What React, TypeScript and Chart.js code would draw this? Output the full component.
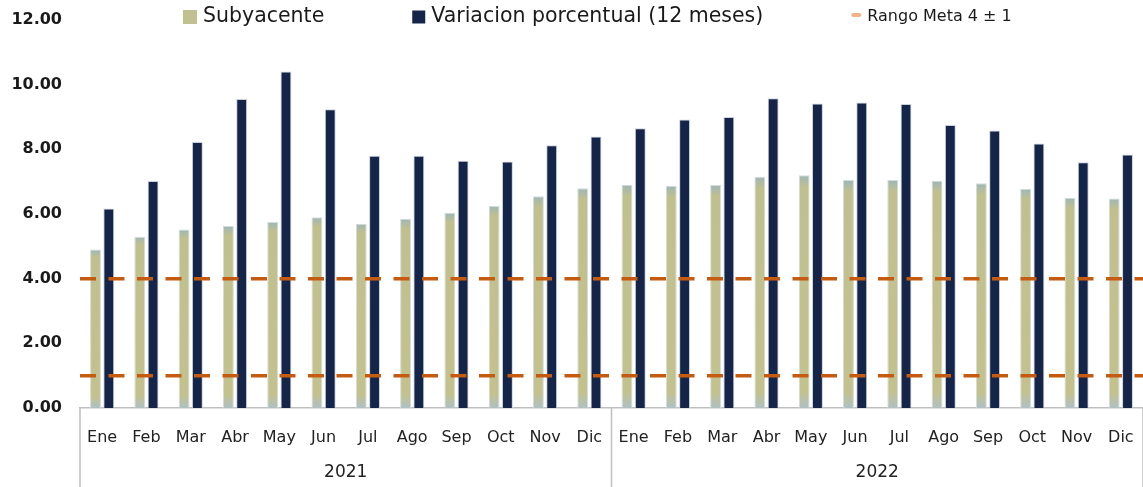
import React, { useEffect, useRef } from 'react';
import { Chart, registerables } from 'chart.js';

Chart.register(...registerables);

// ---- data ----
const months = ['Ene', 'Feb', 'Mar', 'Abr', 'May', 'Jun', 'Jul', 'Ago', 'Sep', 'Oct', 'Nov', 'Dic'];
const categories = [...months, ...months];
const years = ['2021', '2022'];
const subyacente = [
  4.9, 5.3, 5.52, 5.63, 5.75, 5.9, 5.7, 5.85, 6.04, 6.25, 6.55, 6.8,
  6.9, 6.87, 6.9, 7.15, 7.2, 7.05, 7.05, 7.03, 6.95, 6.78, 6.5, 6.48,
];
const variacion = [
  6.17, 7.02, 8.23, 9.56, 10.41, 9.24, 7.8, 7.8, 7.65, 7.62, 8.13, 8.4,
  8.65, 8.92, 9.0, 9.58, 9.42, 9.45, 9.4, 8.75, 8.58, 8.18, 7.6, 7.84,
];
const metaUpper = categories.map(() => 4);
const metaLower = categories.map(() => 1);
const yMin = 0;
const yMax = 12;
const yStep = 2;

const labelSub = 'Subyacente';
const labelVar = 'Variacion porcentual (12 meses)';
const labelMeta = 'Rango Meta 4 ± 1';

const FONT = "'DejaVu Sans', 'Noto Sans', sans-serif";

// stretch the target-range lines across the whole plot area
const extendLinesPlugin = {
  id: 'extendLines',
  afterDatasetsUpdate(chart: any) {
    const area = chart.chartArea;
    chart.data.datasets.forEach((d: any, i: number) => {
      if (d.type !== 'line') return;
      const pts = chart.getDatasetMeta(i).data;
      if (!pts.length) return;
      pts[0].x = area.left;
      pts[pts.length - 1].x = area.right;
    });
  },
};

const yearBoxPlugin = {
  id: 'yearBox',
  afterDraw(chart: any) {
    const x = chart.scales.x;
    const ctx = chart.ctx;
    const half = months.length;
    const mid = (x.getPixelForTick(half - 1) + x.getPixelForTick(half)) / 2;
    ctx.save();
    ctx.strokeStyle = '#bfbfbf';
    ctx.lineWidth = 1.5;
    [x.left, mid, x.right].forEach((px: number) => {
      ctx.beginPath();
      ctx.moveTo(px, x.top);
      ctx.lineTo(px, chart.height);
      ctx.stroke();
    });
    ctx.restore();
  },
};

const topLegendPlugin = {
  id: 'topLegend',
  afterDraw(chart: any, _args: any, opts: any) {
    const ctx = chart.ctx;
    const ds = chart.data.datasets;
    const items = [
      { kind: 'box', color: '#c0c090', text: ds[0].label, size: 20.5, box: 14 },
      { kind: 'box', color: '#15254a', text: ds[1].label, size: 20.5, box: 13 },
      { kind: 'dash', color: '#f4b183', text: ds[2].label, size: 16, box: 8 },
    ];
    let cx = opts.x;
    const cy = opts.y;
    ctx.save();
    ctx.textBaseline = 'middle';
    items.forEach((it) => {
      if (it.kind === 'box') {
        ctx.fillStyle = it.color;
        ctx.fillRect(cx, cy - it.box / 2, it.box, it.box);
        cx += it.box + 6;
      } else {
        ctx.strokeStyle = it.color;
        ctx.lineWidth = 4;
        ctx.lineCap = 'round';
        ctx.beginPath();
        ctx.moveTo(cx + 2, cy - 2);
        ctx.lineTo(cx + it.box, cy - 2);
        ctx.stroke();
        cx += it.box + 8;
      }
      ctx.font = `${it.size}px ${FONT}`;
      ctx.fillStyle = '#1a1a1a';
      ctx.fillText(it.text, cx, cy);
      cx += ctx.measureText(it.text).width + opts.gap;
    });
    ctx.restore();
  },
};

function subGradient(context: any) {
  const chart = context.chart;
  const { ctx, chartArea, scales } = chart;
  if (!chartArea) return '#c2c18f';
  const v = context.raw ?? 0;
  const top = scales.y.getPixelForValue(v);
  const bottom = scales.y.getPixelForValue(0);
  if (!isFinite(top) || bottom - top < 2) return '#c2c18f';
  const g = ctx.createLinearGradient(0, top, 0, bottom);
  g.addColorStop(0, '#9fb6b6');
  g.addColorStop(0.05, '#c0c08f');
  g.addColorStop(0.93, '#c3c28e');
  g.addColorStop(1, '#afc0c4');
  return g;
}

const lineStyle = {
  type: 'line',
  label: labelMeta,
  borderColor: '#c55a11',
  borderWidth: 3.5,
  borderDash: [16, 12.5],
  pointRadius: 0,
  pointHoverRadius: 0,
  fill: false,
  tension: 0,
  order: 0,
};

export default function App() {
  const ref = useRef<HTMLCanvasElement | null>(null);

  useEffect(() => {
    document.body.style.margin = '0';
    if (!ref.current) return;
    const chart = new Chart(ref.current, {
      type: 'bar',
      data: {
        labels: categories,
        datasets: [
          {
            type: 'bar',
            label: labelSub,
            data: subyacente,
            backgroundColor: subGradient,
            borderColor: '#d3dcdc',
            borderWidth: 1,
            order: 2,
          },
          {
            type: 'bar',
            label: labelVar,
            data: variacion,
            backgroundColor: '#15254a',
            borderColor: '#c9d1dc',
            borderWidth: 1,
            order: 2,
          },
          { ...lineStyle, data: metaUpper },
          { ...lineStyle, data: metaLower },
        ] as any,
      },
      options: {
        animation: false,
        responsive: true,
        maintainAspectRatio: false,
        layout: { padding: { left: 11, top: 20, right: 0, bottom: 5 } },
        datasets: {
          bar: { categoryPercentage: 0.6, barPercentage: 0.82 },
        } as any,
        plugins: {
          legend: { display: false },
          tooltip: { enabled: false },
          topLegend: { x: 183, y: 17, gap: 88 },
        } as any,
        scales: {
          x: {
            type: 'category',
            position: 'bottom',
            offset: true,
            weight: 0,
            grid: { display: false, drawTicks: true, tickLength: 20 },
            border: { display: true, color: '#bfbfbf', width: 1.5 },
            ticks: { color: '#222', font: { family: FONT, size: 16 }, padding: 0, maxRotation: 0, autoSkip: false },
            afterFit: (s: any) => { s.height = 39; },
          },
          x2: {
            type: 'category',
            position: 'bottom',
            weight: 1,
            labels: years,
            offset: true,
            grid: { display: false, drawTicks: false },
            border: { display: false },
            ticks: { color: '#222', font: { family: FONT, size: 17 }, padding: 15, maxRotation: 0 },
            afterFit: (s: any) => { s.height = 35; },
          },
          y: {
            min: yMin,
            max: yMax,
            grid: { display: false, drawTicks: true, tickLength: 18 },
            border: { display: false },
            ticks: {
              stepSize: yStep,
              padding: 0,
              color: '#1a1a1a',
              font: { family: FONT, size: 16, weight: 'bold' },
              callback: (v: any) => Number(v).toFixed(2),
            },
            afterFit: (s: any) => { s.width = 69; },
          },
        } as any,
      },
      plugins: [extendLinesPlugin, yearBoxPlugin, topLegendPlugin],
    });
    return () => chart.destroy();
  }, []);

  return (
    <div style={{ position: 'relative', width: '1143px', height: '487px' }}>
      <canvas ref={ref} />
    </div>
  );
}
